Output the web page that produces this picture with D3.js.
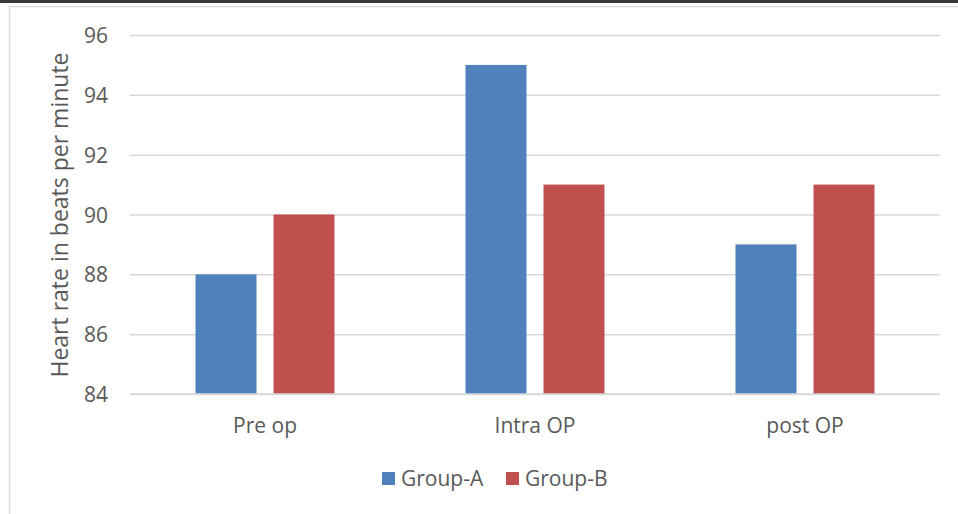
<!DOCTYPE html>
<html>
<head>
<meta charset="utf-8">
<script src="https://cdn.jsdelivr.net/npm/d3@7"></script>
<style>
  html, body { margin: 0; padding: 0; background: #fff; }
  svg { display: block; }
  text { font-family: "Open Sans", "Noto Sans", sans-serif; fill: #595959; }
</style>
</head>
<body>
<script>
// Mean heart rate per surgical phase
const categories = ["Pre op", "Intra OP", "post OP"];
const seriesNames = ["Group-A", "Group-B"];
const groupA = [88, 95, 89];
const groupB = [90, 91, 91];
const yTicks = [84, 86, 88, 90, 92, 94, 96];
const colors = ["#4f81bd", "#c0504d"];

const W = 958, H = 514;
const plot = { left: 130, right: 940, top: 35, bottom: 394 };
const FONT = '"Open Sans", "Noto Sans", sans-serif';

const svg = d3.select("body").append("svg").attr("width", W).attr("height", H);

// page edge line and chart frame
svg.append("line").attr("x1", 0).attr("x2", W).attr("y1", 1.5).attr("y2", 1.5)
  .attr("stroke", "#3a3a3a").attr("stroke-width", 3);
svg.append("rect").attr("x", 9.5).attr("y", 6.5).attr("width", W + 10).attr("height", H + 10)
  .attr("fill", "none").attr("stroke", "#d9d9d9").attr("stroke-width", 1.5);

const x0 = d3.scaleBand().domain(categories).range([plot.left, plot.right]);
const barW = 61, barGap = 17;
const x1 = d3.scaleOrdinal().domain(seriesNames).range([-(barW + barGap / 2), barGap / 2]);

const y = d3.scaleLinear().domain([84, 96]).range([plot.bottom, plot.top]);

// gridlines and value labels
const yAxis = d3.axisLeft(y).tickValues(yTicks).tickSize(-(plot.right - plot.left)).tickPadding(22).tickFormat(d3.format("d"));
const gy = svg.append("g").attr("transform", `translate(${plot.left},0)`).call(yAxis);
gy.select(".domain").remove();
gy.selectAll(".tick line").attr("stroke", "#d9d9d9").attr("stroke-width", 1.5);
gy.selectAll(".tick text").attr("font-size", 21).attr("dy", "0.36em").style("fill", "#595959").style("font-family", FONT);

// bars
const rows = categories.map((c, i) => ({ cat: c, values: [groupA[i], groupB[i]] }));
const g = svg.append("g");
rows.forEach(r => {
  r.values.forEach((v, j) => {
    const cx = x0(r.cat) + x0.bandwidth() / 2;
    g.append("rect")
      .attr("x", cx + x1(seriesNames[j]))
      .attr("y", y(v))
      .attr("width", barW)
      .attr("height", y(84) - y(v))
      .attr("fill", colors[j]);
  });
});

// baseline redrawn above bars
svg.append("line").attr("x1", plot.left).attr("x2", plot.right)
  .attr("y1", y(84)).attr("y2", y(84)).attr("stroke", "#d9d9d9").attr("stroke-width", 1.5);

// category labels
const xAxis = d3.axisBottom(x0).tickSize(0).tickPadding(0);
const gx = svg.append("g").attr("transform", `translate(0,${plot.bottom})`).call(xAxis);
gx.select(".domain").remove();
gx.selectAll(".tick text").attr("font-size", 21).attr("dy", null).attr("y", 39)
  .style("fill", "#595959").style("font-family", FONT);

// axis title
svg.append("text")
  .attr("transform", `translate(68,215) rotate(-90)`)
  .attr("text-anchor", "middle")
  .attr("font-size", 23)
  .text("Heart rate in beats per minute");

// legend
const legendX = [382, 506];
seriesNames.forEach((s, j) => {
  svg.append("rect").attr("x", legendX[j]).attr("y", 472).attr("width", 13).attr("height", 13).attr("fill", colors[j]);
  svg.append("text").attr("x", legendX[j] + 19).attr("y", 486).attr("font-size", 21).text(s);
});
</script>
</body>
</html>
